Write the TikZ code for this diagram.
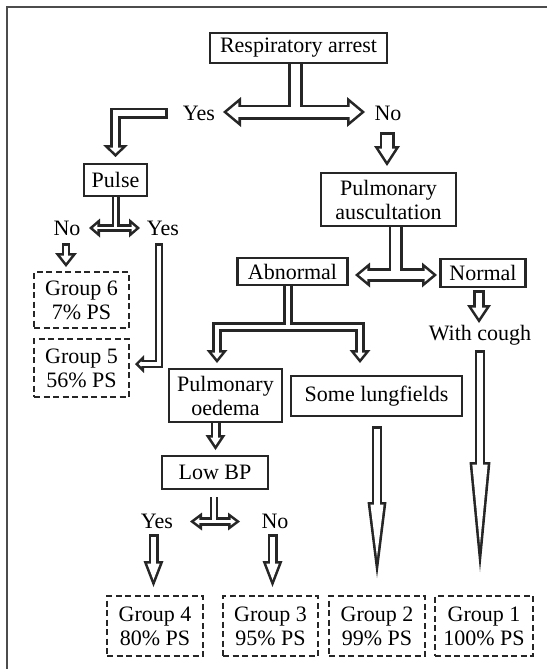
\documentclass[tikz,border=0pt]{standalone}
\usepackage{fontspec}
\setmainfont{Liberation Serif}
\usetikzlibrary{arrows.meta}

\pgfdeclarelayer{inner}
\pgfsetlayers{main,inner}

% hollow block arrow: outline first, white core on the inner layer
\newcommand\olw{2.6}
\newcommand\hollow[6][]{%
  \pgfmathsetmacro\hWi{#3-2*\olw}%
  \pgfmathsetmacro\hback{\olw*sqrt((#4/2)^2+(#5)^2)/(#4/2)}%
  \pgfmathsetmacro\hLi{#5-\olw-\hback}%
  \pgfmathsetmacro\hHi{#4*\hLi/#5}%
  \draw[black!85, line width=#3pt,
    >={Triangle[width=#4pt,length=#5pt,line width=0pt]}, #2] #6;
  \begin{pgfonlayer}{inner}
    \draw[white, line width=\hWi pt,
      >={Triangle[width=\hHi pt,length=\hLi pt,line width=0pt]},
      shorten >=\hback pt, #2, #1] #6;
  \end{pgfonlayer}}

\begin{document}
\begin{tikzpicture}[
    x = 1pt, y = -1pt, % pixel grid, y downwards
    font = \fontsize{22}{24}\selectfont,
    box/.style = {draw = black!85, line width = 2.8pt, align = center, inner sep = 1pt},
    grp/.style = {box, dash pattern = on 6pt off 3.5pt},
    lbl/.style = {inner sep = 0pt}
  ]

  \useasboundingbox (0,0) rectangle (547,669);
  \draw[line width = 2.2pt, black!70] (7,669) -- (7,7) -- (547,7);

  % boxes
  \node[box, minimum width = 177pt, minimum height = 30pt] (ra) at (298.5,48) {Respiratory arrest};
  \node[box, minimum width = 63pt, minimum height = 32pt] (pulse) at (115.5,180) {Pulse};
  \node[box, minimum width = 135pt, minimum height = 53pt] (pa) at (388.5,199.5) {Pulmonary\\auscultation};
  \node[box, minimum width = 110pt, minimum height = 27pt] (abn) at (292.5,271.5) {Abnormal};
  \node[box, minimum width = 85pt, minimum height = 28pt] (norm) at (483,273) {Normal};
  \node[box, minimum width = 113pt, minimum height = 53pt] (po) at (225.5,395.5) {Pulmonary\\oedema};
  \node[box, minimum width = 171pt, minimum height = 40pt] (sl) at (376.5,396) {Some lungfields};
  \node[box, minimum width = 106pt, minimum height = 33pt] (lbp) at (215,472.5) {Low BP};

  % outcome groups
  \node[grp, minimum width = 95pt, minimum height = 56pt] (g6) at (81.5,300) {Group 6\\7\% PS};
  \node[grp, minimum width = 95pt, minimum height = 58pt] (g5) at (81.5,368) {Group 5\\56\% PS};
  \node[grp, minimum width = 96pt, minimum height = 60pt] (g4) at (155,626) {Group 4\\80\% PS};
  \node[grp, minimum width = 95pt, minimum height = 60pt] (g3) at (270.5,626) {Group 3\\95\% PS};
  \node[grp, minimum width = 96pt, minimum height = 60pt] (g2) at (377,626) {Group 2\\99\% PS};
  \node[grp, minimum width = 98pt, minimum height = 60pt] (g1) at (484,626) {Group 1\\100\% PS};

  % answers
  \node[lbl] (yes1) at (199,113) {Yes};
  \node[lbl] (no1) at (388,113) {No};
  \node[lbl] (no2) at (67,228) {No};
  \node[lbl] (yes2) at (163,228) {Yes};
  \node[lbl] (cough) at (480,335) {With cough};
  \node[lbl] (yes3) at (157,521) {Yes};
  \node[lbl] (no3) at (275,521) {No};

  % arrow ends
  \coordinate (j1) at (295.5,112);
  \coordinate (t1l) at (223,112);
  \coordinate (t1r) at (365,112);
  \coordinate (b1) at (168,113);
  \coordinate (t2) at (115.5,157);
  \coordinate (n1) at (387,132);
  \coordinate (t3) at (387,166);
  \coordinate (j2) at (395.5,275);
  \coordinate (t4l) at (355,275);
  \coordinate (t4r) at (437,275);
  \coordinate (n2) at (479,290);
  \coordinate (t5) at (479,323);
  \coordinate (j3) at (288,327);
  \coordinate (t6l) at (217,363);
  \coordinate (t6r) at (360,363);
  \coordinate (t7) at (215.5,450);
  \coordinate (s8) at (214,497);
  \coordinate (t8l) at (190,521.5);
  \coordinate (t8r) at (240,521.5);
  \coordinate (n9) at (153.5,534);
  \coordinate (t9) at (153.5,587);
  \coordinate (n10) at (272.5,534);
  \coordinate (t10) at (272.5,587);
  \coordinate (n11) at (377,426);
  \coordinate (t11) at (377,578);
  \coordinate (n12) at (480,350);
  \coordinate (t12) at (480,572);
  \coordinate (j5) at (115.5,228);
  \coordinate (t13l) at (89,228);
  \coordinate (t13r) at (140,228);
  \coordinate (n14) at (66,243);
  \coordinate (t14) at (66,267);
  \coordinate (n15) at (159,243);
  \coordinate (t15) at (135,364);

  % respiratory arrest
  \hollow{->}{15}{30}{18}{(ra.south -| j1) |- (t1l)}
  \hollow{->}{15}{30}{18}{(ra.south -| j1) |- (t1r)}
  \hollow[shorten <=\olw pt]{->}{11}{25}{12}{(b1) -| (t2)}
  \hollow[shorten <=\olw pt]{->}{15}{26}{20}{(n1) -- (t3)}

  % pulse
  \hollow{->}{8}{19}{11}{(pulse.south -| j5) |- (t13l)}
  \hollow{->}{8}{19}{11}{(pulse.south -| j5) |- (t13r)}
  \hollow[shorten <=\olw pt]{->}{8.5}{22}{14}{(n14) -- (t14)}
  \hollow[shorten <=\olw pt]{->}{8.5}{18}{9}{(n15) |- (t15)}

  % auscultation
  \hollow{->}{14}{25}{15}{(pa.south -| j2) |- (t4l)}
  \hollow{->}{14}{25}{15}{(pa.south -| j2) |- (t4r)}
  \hollow[shorten <=\olw pt]{->}{12}{24}{18}{(n2) -- (t5)}
  \hollow{->}{10}{21}{13}{(abn.south -| j3) -- (j3) -| (t6l)}
  \hollow{->}{10}{21}{13}{(abn.south -| j3) -- (j3) -| (t6r)}

  % oedema and blood pressure
  \hollow{->}{10}{20}{15}{(po.south -| t7) -- (t7)}
  \hollow{->}{8.5}{18}{12}{(s8) |- (t8l)}
  \hollow{->}{8.5}{18}{12}{(s8) |- (t8r)}
  \hollow[shorten <=\olw pt]{->}{10}{20}{26}{(n9) -- (t9)}
  \hollow[shorten <=\olw pt]{->}{10}{20}{26}{(n10) -- (t10)}

  % long arrows to the groups
  \hollow[shorten <=\olw pt]{->}{10.5}{19}{76}{(n11) -- (t11)}
  \hollow[shorten <=\olw pt]{->}{10.5}{21}{110}{(n12) -- (t12)}

\end{tikzpicture}
\end{document}
